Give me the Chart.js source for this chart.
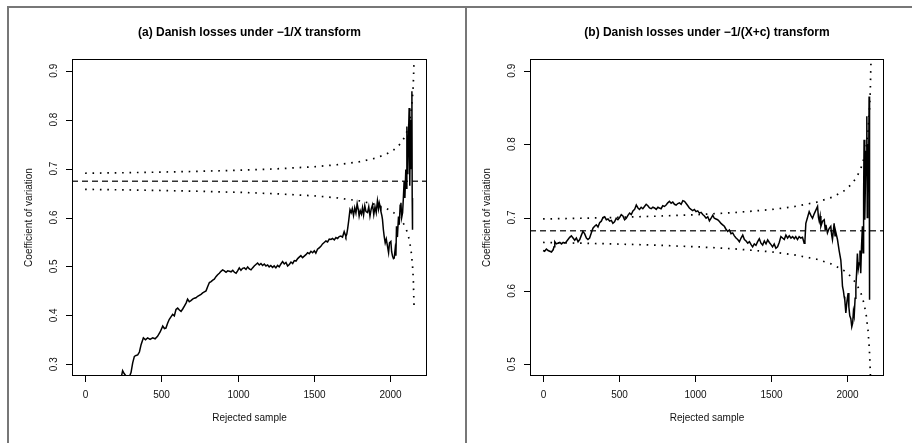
<!DOCTYPE html>
<html>
<head>
<meta charset="utf-8">
<script src="https://cdn.jsdelivr.net/npm/chart.js@4.4.1/dist/chart.umd.min.js"></script>
<style>
  html, body { margin: 0; padding: 0; background: #fff; }
  body { width: 912px; height: 443px; position: relative; overflow: hidden; }
  canvas { position: absolute; }
  #cA { left: 9px; top: 8px; }
  #cB { left: 467px; top: 8px; }
  .frame { position: absolute; background: #777; }
</style>
</head>
<body>
<div class="frame" style="left:7px;top:6px;width:905px;height:2px"></div>
<div class="frame" style="left:7px;top:6px;width:2px;height:437px"></div>
<div class="frame" style="left:465px;top:6px;width:2px;height:437px"></div>
<canvas id="cA" width="456" height="435"></canvas>
<canvas id="cB" width="445" height="435"></canvas>
<script>
// rejected sample index / coefficient of variation, panel (a)
const kA = [
  0, 60, 120, 180, 230, 246, 256, 268, 280, 292,
  301, 312, 323, 334, 345, 356, 367, 382, 396, 410,
  426, 443, 459, 475, 492, 509, 520, 530, 541, 552,
  563, 574, 585, 596, 607, 618, 629, 640, 651, 662,
  672, 683, 694, 705, 716, 727, 738, 749, 760, 771,
  782, 793, 804, 815, 826, 837, 847, 858, 869, 880,
  891, 902, 913, 924, 935, 946, 957, 968, 979, 990,
  1000, 1011, 1022, 1033, 1044, 1055, 1066, 1077, 1088, 1098,
  1109, 1120, 1131, 1142, 1153, 1164, 1175, 1186, 1197, 1207,
  1218, 1229, 1240, 1251, 1262, 1273, 1284, 1295, 1306, 1317,
  1328, 1339, 1350, 1361, 1372, 1383, 1394, 1404, 1415, 1426,
  1437, 1448, 1459, 1470, 1481, 1492, 1503, 1513, 1524, 1535,
  1546, 1557, 1568, 1579, 1590, 1601, 1612, 1623, 1634, 1645,
  1656, 1666, 1677, 1688, 1699, 1705, 1710, 1716, 1722, 1728,
  1737, 1745, 1752, 1760, 1768, 1776, 1784, 1792, 1797, 1804,
  1812, 1819, 1826, 1834, 1842, 1852, 1860, 1868, 1876, 1885,
  1893, 1901, 1909, 1917, 1924, 1929, 1935, 1940, 1946, 1950,
  1956, 1961, 1968, 1975, 1983, 1990, 1996, 2005, 2010, 2016,
  2022, 2027, 2033, 2038, 2042, 2048, 2055, 2060, 2066, 2071,
  2076, 2082, 2087, 2092, 2097, 2103, 2107, 2110, 2113, 2116,
  2120, 2125, 2129, 2133, 2136, 2140, 2143, 2145, 2147
];
const cvA = [
  0.150, 0.175, 0.205, 0.235, 0.262, 0.287, 0.281, 0.276, 0.274, 0.276,
  0.283, 0.303, 0.316, 0.318, 0.319, 0.325, 0.340, 0.354, 0.350, 0.354,
  0.351, 0.354, 0.352, 0.357, 0.366, 0.378, 0.373, 0.374, 0.384, 0.392,
  0.397, 0.402, 0.399, 0.412, 0.415, 0.411, 0.408, 0.413, 0.419, 0.425,
  0.433, 0.428, 0.430, 0.433, 0.435, 0.436, 0.439, 0.441, 0.443, 0.446,
  0.448, 0.450, 0.459, 0.467, 0.469, 0.472, 0.474, 0.479, 0.483, 0.486,
  0.490, 0.493, 0.491, 0.488, 0.491, 0.490, 0.489, 0.492, 0.488, 0.486,
  0.491, 0.497, 0.492, 0.496, 0.497, 0.494, 0.499, 0.495, 0.493, 0.497,
  0.501, 0.504, 0.507, 0.503, 0.506, 0.502, 0.505, 0.501, 0.503, 0.499,
  0.502, 0.498, 0.501, 0.497, 0.502, 0.499, 0.505, 0.510, 0.505, 0.508,
  0.501, 0.504, 0.509, 0.506, 0.512, 0.511, 0.516, 0.519, 0.522, 0.518,
  0.521, 0.524, 0.528, 0.526, 0.531, 0.528, 0.532, 0.527, 0.535, 0.538,
  0.541, 0.546, 0.549, 0.552, 0.550, 0.556, 0.555, 0.557, 0.554, 0.559,
  0.557, 0.561, 0.562, 0.560, 0.571, 0.566, 0.561, 0.566, 0.578, 0.592,
  0.616, 0.610, 0.618, 0.604, 0.620, 0.609, 0.628, 0.615, 0.603, 0.614,
  0.607, 0.620, 0.605, 0.624, 0.612, 0.610, 0.622, 0.603, 0.617, 0.626,
  0.606, 0.622, 0.610, 0.634, 0.618, 0.630, 0.622, 0.612, 0.604, 0.596,
  0.575, 0.562, 0.548, 0.556, 0.541, 0.528, 0.548, 0.551, 0.530, 0.521,
  0.516, 0.517, 0.535, 0.522, 0.582, 0.560, 0.602, 0.585, 0.625, 0.630,
  0.600, 0.610, 0.640, 0.674, 0.640, 0.698, 0.660, 0.786, 0.690, 0.700,
  0.760, 0.824, 0.665, 0.800, 0.740, 0.700, 0.858, 0.640, 0.575
];

// panel (b)
const kB = [
  0, 10, 22, 33, 44, 55, 66, 72, 77, 88,
  98, 110, 121, 132, 142, 153, 164, 175, 186, 197,
  208, 219, 230, 241, 252, 262, 273, 285, 295, 306,
  317, 328, 339, 350, 361, 372, 383, 394, 405, 416,
  427, 438, 449, 459, 470, 481, 492, 503, 514, 525,
  536, 547, 558, 569, 580, 591, 602, 613, 624, 634,
  645, 656, 667, 678, 689, 700, 711, 722, 733, 744,
  755, 765, 776, 787, 798, 809, 820, 831, 842, 853,
  864, 875, 886, 897, 908, 919, 930, 941, 952, 962,
  973, 984, 995, 1006, 1017, 1028, 1039, 1050, 1061, 1072,
  1083, 1094, 1105, 1116, 1126, 1137, 1148, 1160, 1170, 1181,
  1192, 1203, 1214, 1225, 1236, 1247, 1258, 1269, 1280, 1291,
  1302, 1313, 1324, 1335, 1346, 1357, 1368, 1378, 1389, 1400,
  1411, 1422, 1433, 1444, 1455, 1466, 1477, 1488, 1499, 1509,
  1520, 1531, 1542, 1553, 1564, 1575, 1586, 1597, 1608, 1619,
  1630, 1641, 1652, 1662, 1673, 1684, 1695, 1706, 1717, 1722,
  1728, 1739, 1750, 1761, 1772, 1783, 1794, 1805, 1811, 1816,
  1822, 1827, 1838, 1849, 1855, 1860, 1870, 1881, 1892, 1898,
  1903, 1909, 1914, 1920, 1925, 1936, 1947, 1958, 1964, 1969,
  1975, 1980, 1984, 1991, 1998, 2006, 2011, 2017, 2024, 2030,
  2036, 2041, 2046, 2052, 2057, 2062, 2067, 2073, 2079, 2084,
  2089, 2094, 2100, 2104, 2108, 2111, 2114, 2117, 2121, 2125,
  2129, 2132, 2135, 2138, 2141, 2144, 2146, 2148
];
const cvB = [
  0.655, 0.654, 0.657, 0.655, 0.654, 0.653, 0.656, 0.660, 0.667, 0.664,
  0.665, 0.666, 0.664, 0.666, 0.665, 0.667, 0.670, 0.673, 0.675, 0.672,
  0.669, 0.672, 0.667, 0.670, 0.676, 0.681, 0.678, 0.672, 0.670, 0.672,
  0.679, 0.6855, 0.688, 0.690, 0.687, 0.693, 0.695, 0.700, 0.701, 0.697,
  0.698, 0.695, 0.696, 0.692, 0.694, 0.699, 0.697, 0.700, 0.704, 0.702,
  0.697, 0.699, 0.703, 0.706, 0.704, 0.709, 0.711, 0.717, 0.713, 0.711,
  0.714, 0.712, 0.715, 0.718, 0.716, 0.713, 0.712, 0.714, 0.713, 0.711,
  0.714, 0.713, 0.712, 0.716, 0.715, 0.717, 0.720, 0.722, 0.7195, 0.721,
  0.718, 0.717, 0.719, 0.720, 0.718, 0.723, 0.722, 0.719, 0.716, 0.713,
  0.711, 0.7095, 0.711, 0.708, 0.709, 0.706, 0.707, 0.704, 0.702, 0.699,
  0.701, 0.6955, 0.699, 0.703, 0.699, 0.698, 0.697, 0.6945, 0.692, 0.690,
  0.688, 0.684, 0.681, 0.683, 0.678, 0.679, 0.675, 0.672, 0.670, 0.667,
  0.672, 0.676, 0.670, 0.668, 0.665, 0.667, 0.663, 0.660, 0.664, 0.662,
  0.667, 0.671, 0.665, 0.6625, 0.668, 0.664, 0.6695, 0.666, 0.663, 0.660,
  0.664, 0.658, 0.660, 0.666, 0.674, 0.672, 0.670, 0.676, 0.672, 0.675,
  0.672, 0.674, 0.671, 0.674, 0.670, 0.674, 0.672, 0.673, 0.665, 0.668,
  0.692, 0.700, 0.708, 0.703, 0.699, 0.705, 0.710, 0.715, 0.700, 0.695,
  0.702, 0.688, 0.695, 0.697, 0.684, 0.690, 0.679, 0.685, 0.688, 0.676,
  0.670, 0.682, 0.692, 0.675, 0.680, 0.670, 0.655, 0.642, 0.625, 0.606,
  0.600, 0.592, 0.588, 0.570, 0.585, 0.597, 0.578, 0.566, 0.562, 0.551,
  0.556, 0.572, 0.566, 0.590, 0.606, 0.625, 0.651, 0.630, 0.638, 0.655,
  0.624, 0.660, 0.688, 0.652, 0.730, 0.806, 0.740, 0.697, 0.760, 0.790,
  0.838, 0.700, 0.723, 0.800, 0.760, 0.865, 0.650, 0.588
];

// confidence bands (dotted) and reference levels (dashed)
const bandK  = [0, 250, 500, 750, 1000, 1250, 1500, 1650, 1800, 1900, 1975, 2025, 2060, 2090, 2110, 2125, 2137, 2146, 2152, 2157];
const upperA = [0.6905, 0.6915, 0.6928, 0.6944, 0.6965, 0.6994, 0.7037, 0.7078, 0.7141, 0.721, 0.7294, 0.7385, 0.7483, 0.7615, 0.7757, 0.7925, 0.814, 0.8416, 0.872, 0.917];
const lowerA = [0.6575, 0.6565, 0.6552, 0.6536, 0.6515, 0.6486, 0.6443, 0.6402, 0.6339, 0.627, 0.6186, 0.6095, 0.5997, 0.5865, 0.5723, 0.5555, 0.534, 0.5064, 0.476, 0.42];
const upperB = [0.698, 0.699, 0.7002, 0.7018, 0.7038, 0.7066, 0.7108, 0.7148, 0.7209, 0.7276, 0.7357, 0.7446, 0.7541, 0.7669, 0.7806, 0.797, 0.818, 0.8446, 0.874, 0.918];
const lowerB = [0.666, 0.665, 0.6638, 0.6622, 0.6602, 0.6574, 0.6532, 0.6492, 0.6431, 0.6364, 0.6283, 0.6194, 0.6099, 0.5971, 0.5834, 0.567, 0.546, 0.5194, 0.49, 0.446];
const meanA = 0.674;
const meanB = 0.682;

const xRange = [-86, 2242];
const xTicks = [0, 500, 1000, 1500, 2000];
const yRangeA = [0.276, 0.924];
const yTicksA = [0.3, 0.4, 0.5, 0.6, 0.7, 0.8, 0.9];
const yRangeB = [0.484, 0.916];
const yTicksB = [0.5, 0.6, 0.7, 0.8, 0.9];

const titleA = '(a) Danish losses under \u22121/X transform';
const titleB = '(b) Danish losses under \u22121/(X+c) transform';
const xLabel = 'Rejected sample';
const yLabel = 'Coefficient of variation';

const FONT = '"Liberation Sans", Arial, Helvetica, sans-serif';

const pts = (xs, ys) => xs.map((x, i) => ({ x: x, y: ys[i] }));

// R-style box, outward ticks, rotated y labels and titles
function rFrame(title, yTicks) {
  return {
    id: 'rFrame',
    beforeDatasetsDraw(chart) {
      // keep every series inside the plot box
      const { ctx, chartArea: a } = chart;
      ctx.save();
      ctx.beginPath();
      ctx.rect(a.left, a.top, a.right - a.left, a.bottom - a.top);
      ctx.clip();
    },
    afterDatasetsDraw(chart) {
      chart.ctx.restore();
    },
    afterDraw(chart) {
      const { ctx, chartArea: a, scales: { x, y } } = chart;
      const L = Math.round(a.left), R = Math.round(a.right);
      const T = Math.round(a.top), B = Math.round(a.bottom);
      ctx.save();
      ctx.setLineDash([]);
      ctx.strokeStyle = '#000';
      ctx.lineWidth = 1;
      ctx.strokeRect(L + 0.5, T + 0.5, R - L - 1, B - T - 1);

      ctx.fillStyle = '#111';
      ctx.font = '10px ' + FONT;
      ctx.textAlign = 'center';
      ctx.textBaseline = 'middle';
      ctx.beginPath();
      xTicks.forEach(v => {
        const px = Math.round(x.getPixelForValue(v)) + 0.5;
        ctx.moveTo(px, B);
        ctx.lineTo(px, B + 6);
        ctx.fillText(String(v), px, B + 19);
      });
      yTicks.forEach(v => {
        const py = Math.round(y.getPixelForValue(v)) + 0.5;
        ctx.moveTo(L - 6, py);
        ctx.lineTo(L, py);
      });
      ctx.stroke();
      yTicks.forEach(v => {
        const py = y.getPixelForValue(v);
        ctx.save();
        ctx.translate(L - 18, py);
        ctx.rotate(-Math.PI / 2);
        ctx.fillText(v.toFixed(1), 0, 0);
        ctx.restore();
      });

      const cx = (L + R) / 2;
      ctx.fillText(xLabel, cx, B + 42);
      ctx.save();
      ctx.translate(L - 43, (T + B) / 2);
      ctx.rotate(-Math.PI / 2);
      ctx.fillText(yLabel, 0, 0);
      ctx.restore();

      ctx.fillStyle = '#000';
      ctx.font = 'bold 12px ' + FONT;
      ctx.fillText(title, cx, T - 26);
      ctx.restore();
    }
  };
}

function makePanel(id, p) {
  const solid = { borderColor: '#000', borderWidth: 1.5, pointRadius: 0, tension: 0, fill: false };
  const dotted = { borderColor: '#000', borderWidth: 1.7, borderDash: [1.6, 5.8], borderCapStyle: 'butt', pointRadius: 0, tension: 0, fill: false };
  const dashed = { borderColor: '#333', borderWidth: 1.4, borderDash: [6, 4], pointRadius: 0, tension: 0, fill: false };
  new Chart(document.getElementById(id), {
    type: 'line',
    data: {
      datasets: [
        Object.assign({ data: pts(p.k, p.cv) }, solid),
        Object.assign({ data: pts(bandK, p.upper) }, dotted),
        Object.assign({ data: pts(bandK, p.lower) }, dotted),
        Object.assign({ data: pts(xRange, [p.mean, p.mean]) }, dashed)
      ]
    },
    options: {
      responsive: false,
      animation: false,
      events: [],
      layout: { padding: { left: 63, right: p.padRight, top: 51, bottom: 67 } },
      scales: {
        x: { type: 'linear', min: xRange[0], max: xRange[1], display: false },
        y: { type: 'linear', min: p.yRange[0], max: p.yRange[1], display: false }
      },
      plugins: { legend: { display: false }, tooltip: { enabled: false }, title: { display: false } }
    },
    plugins: [rFrame(p.title, p.yTicks)]
  });
}

makePanel('cA', { k: kA, cv: cvA, upper: upperA, lower: lowerA, mean: meanA, yRange: yRangeA, yTicks: yTicksA, title: titleA, padRight: 38 });
makePanel('cB', { k: kB, cv: cvB, upper: upperB, lower: lowerB, mean: meanB, yRange: yRangeB, yTicks: yTicksB, title: titleB, padRight: 28 });
</script>
</body>
</html>
